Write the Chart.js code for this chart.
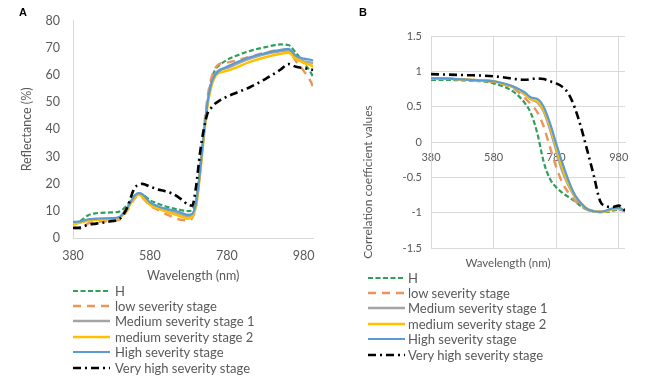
<!DOCTYPE html>
<html>
<head>
<meta charset="utf-8">
<script src="https://cdn.jsdelivr.net/npm/chart.js@4"></script>
<style>
  body { margin: 0; background: #fff; }
  #wrap { position: relative; width: 650px; height: 386px; overflow: hidden; }
  canvas { position: absolute; top: 0; }
  .tag { position: absolute; font: bold 11px "Liberation Sans", Arial, sans-serif; color: #000; }
  .legend { position: absolute; font: 13px Lato, sans-serif; color: #595959; }
  .legend div { height: 15.4px; display: flex; align-items: center; white-space: nowrap; }
  .legend svg { flex: none; }
</style>
</head>
<body>
<div id="wrap">
  <canvas id="chartA" width="325" height="285" style="left:0"></canvas>
  <canvas id="chartB" width="325" height="285" style="left:325px"></canvas>
  <div class="tag" style="left:19px;top:6px">A</div>
  <div class="tag" style="left:359px;top:6px">B</div>
  <div class="legend" id="legendA" style="left:73px;top:283px"></div>
  <div class="legend" id="legendB" style="left:368px;top:270px"></div>
</div>
<script>
// series names (legend order)
const seriesNames = ["H", "low severity stage", "Medium severity stage 1", "medium severity stage 2", "High severity stage", "Very high severity stage"];

// axis ticks
const xTicks = [380, 580, 780, 980];
const yTicksA = [0, 10, 20, 30, 40, 50, 60, 70, 80];
const yTicksB = [-1.5, -1, -0.5, 0, 0.5, 1, 1.5];

// panel A: reflectance (%)
const wavelengthsA = [380, 400, 420, 440, 460, 480, 500, 520, 540, 550, 560, 580, 600, 620, 640, 660, 680, 690, 700, 710, 720, 730, 740, 750, 760, 780, 800, 840, 880, 920, 940, 960, 980, 1000, 1005];
const reflH      = [5.5, 6.5, 8.5, 9.2, 9.4, 9.5, 9.8, 12, 15.5, 16.5, 16.2, 14, 12.8, 11.8, 11, 10.4, 10, 10.6, 14, 25, 38, 50, 58, 62, 63.5, 65.5, 66.8, 68.8, 70.2, 71.2, 71, 68, 64.5, 60.5, 59];
const reflLow    = [4, 3.5, 5.5, 6, 6.2, 6.5, 6.8, 10, 14.5, 15.8, 15, 12, 10.5, 9, 7.8, 6.8, 6.6, 7.5, 12, 24, 40, 52, 59, 62.5, 64, 64.5, 65.2, 66.7, 68.2, 69.2, 68.8, 65, 61.5, 57, 55];
const reflMed1   = [5.6, 6, 6.8, 7, 7.1, 7.2, 7.6, 10.8, 15.2, 16.3, 15.8, 12.8, 11.5, 10.4, 9.6, 8.8, 8, 8.6, 12.5, 24, 38, 50, 57, 60.5, 61.8, 62.5, 63.7, 66, 67.7, 68.7, 69, 66.5, 65, 64.5, 64.3];
const reflMed2   = [5, 5.8, 6.5, 6.8, 6.9, 7, 7.4, 10.5, 15, 16, 15.4, 12.3, 11, 9.9, 9, 8.1, 7.2, 8, 12, 23, 37, 49, 56, 59.5, 60.8, 61.5, 62.5, 64.8, 66.5, 67.8, 68.2, 66, 64.5, 63.5, 63.2];
const reflHigh   = [6, 6.2, 7, 7.2, 7.3, 7.4, 7.8, 11, 15.6, 16.6, 16.2, 13.2, 11.8, 10.9, 10.3, 9.5, 8.6, 9, 13, 24, 38, 50, 57, 60, 61.5, 63, 64.3, 66.5, 68, 69.2, 69.6, 67, 66, 65.5, 65.3];
const reflVHigh  = [3.8, 4, 5, 5.4, 5.8, 6.3, 7, 11, 18.5, 19.5, 20, 19, 18, 17.3, 16.3, 14.5, 12.3, 12, 19, 31, 40, 46, 48, 49.5, 50.5, 52, 53.2, 55.5, 58.5, 62, 64, 63, 62.5, 62, 61.8];

// panel B: correlation coefficient values
const wavelengthsB = [380, 420, 460, 500, 540, 580, 620, 650, 680, 700, 720, 740, 760, 780, 800, 820, 840, 860, 880, 900, 920, 940, 960, 980, 1000];
const corrH     = [0.88, 0.88, 0.875, 0.87, 0.86, 0.83, 0.77, 0.69, 0.55, 0.40, 0.12, -0.28, -0.52, -0.64, -0.72, -0.78, -0.84, -0.91, -0.96, -0.98, -0.99, -0.99, -0.97, -0.96, -0.97];
const corrLow   = [0.9, 0.9, 0.89, 0.88, 0.87, 0.85, 0.8, 0.74, 0.62, 0.53, 0.42, 0.22, -0.07, -0.35, -0.58, -0.72, -0.83, -0.9, -0.96, -0.98, -0.99, -0.98, -0.95, -0.95, -0.98];
const corrMed1  = [0.9, 0.9, 0.89, 0.88, 0.87, 0.86, 0.81, 0.76, 0.67, 0.6, 0.56, 0.43, 0.18, -0.12, -0.42, -0.62, -0.78, -0.88, -0.95, -0.98, -0.99, -0.98, -0.95, -0.95, -0.98];
const corrMed2  = [0.9, 0.9, 0.89, 0.88, 0.87, 0.86, 0.81, 0.77, 0.68, 0.61, 0.58, 0.46, 0.23, -0.06, -0.36, -0.59, -0.76, -0.87, -0.95, -0.98, -0.99, -0.98, -0.95, -0.94, -0.98];
const corrHigh  = [0.9, 0.9, 0.89, 0.88, 0.87, 0.86, 0.82, 0.77, 0.7, 0.63, 0.61, 0.5, 0.27, -0.02, -0.3, -0.55, -0.75, -0.87, -0.95, -0.98, -0.99, -0.97, -0.94, -0.93, -0.98];
const corrVHigh = [0.96, 0.955, 0.95, 0.945, 0.94, 0.93, 0.91, 0.89, 0.88, 0.89, 0.9, 0.89, 0.86, 0.83, 0.78, 0.68, 0.48, 0.2, -0.13, -0.47, -0.83, -0.91, -0.92, -0.9, -0.97];

// line look per series
const styles = [
  { color: "#2ea05a", dash: [5, 2.5], width: 2.2 },
  { color: "#ec955a", dash: [8, 6], width: 2.4 },
  { color: "#a5a5a5", dash: [], width: 2.4 },
  { color: "#ffc000", dash: [], width: 2.6 },
  { color: "#5b9bd5", dash: [], width: 2.2 },
  { color: "#000000", dash: [8, 4, 2, 4], width: 2.6 },
];

const TEXT = "#595959";
const GRID = "#d9d9d9";

function makeDatasets(xs, series) {
  return series.map((vals, i) => ({
    label: seriesNames[i],
    data: xs.map((x, j) => ({ x: x, y: vals[j] })),
    borderColor: styles[i].color,
    borderDash: styles[i].dash,
    borderWidth: styles[i].width,
    pointRadius: 0,
    fill: false,
    cubicInterpolationMode: "monotone",
    order: series.length - i, // last series on top, like Excel
  }));
}

function setTicks(list) {
  return (scale) => { scale.ticks = list.map((v) => ({ value: v })); };
}

// Panel A
new Chart(document.getElementById("chartA").getContext("2d"), {
  type: "line",
  data: { datasets: makeDatasets(wavelengthsA, [reflH, reflLow, reflMed1, reflMed2, reflHigh, reflVHigh]) },
  options: {
    responsive: false,
    animation: false,
    layout: { padding: { top: 12, right: 10, left: 0, bottom: 0 } },
    plugins: { legend: { display: false }, tooltip: { enabled: false } },
    scales: {
      x: {
        type: "linear", min: 380, max: 1005,
        afterBuildTicks: setTicks(xTicks),
        afterFit: (s) => { s.height = 46.7; },
        grid: { display: false, drawTicks: false },
        border: { color: GRID, width: 1 },
        ticks: { color: TEXT, font: { family: "Lato", size: 12.5 }, padding: 10, maxRotation: 0 },
        title: { display: true, text: "Wavelength (nm)", color: TEXT, font: { family: "Lato", size: 12.5 }, padding: { top: 0, bottom: 2 } },
      },
      y: {
        min: 0, max: 80,
        afterBuildTicks: setTicks(yTicksA),
        afterFit: (s) => { s.width = 73; },
        grid: { display: false, drawTicks: false },
        border: { color: GRID, width: 1 },
        ticks: { color: TEXT, font: { family: "Lato", size: 12.5 }, padding: 13 },
        title: { display: true, text: "Reflectance (%)", color: TEXT, font: { family: "Lato", size: 12.5 }, padding: { top: 19, bottom: 0 } },
      },
    },
  },
});

// axis titles of panel B sit off-centre in the reference, so draw them by hand
const titlesB = {
  id: "titlesB",
  afterDraw(chart) {
    const { ctx, chartArea: a } = chart;
    ctx.save();
    ctx.fillStyle = TEXT;
    ctx.font = "11.5px Lato";
    ctx.textAlign = "center";
    ctx.textBaseline = "middle";
    ctx.fillText("Wavelength (nm)", a.left + 77, a.bottom + 15);
    ctx.font = "12px Lato";
    ctx.translate(a.left - 63, a.bottom - 66);
    ctx.rotate(-Math.PI / 2);
    ctx.fillText("Correlation coefficient values", 0, 0);
    ctx.restore();
  },
};

// Panel B
new Chart(document.getElementById("chartB").getContext("2d"), {
  type: "line",
  data: { datasets: makeDatasets(wavelengthsB, [corrH, corrLow, corrMed1, corrMed2, corrHigh, corrVHigh]) },
  options: {
    responsive: false,
    animation: false,
    layout: { padding: { top: 36, right: 25, left: 0, bottom: 37 } },
    plugins: { legend: { display: false }, tooltip: { enabled: false } },
    scales: {
      x: {
        type: "linear", min: 380, max: 1000,
        position: { y: 0 },
        afterBuildTicks: setTicks(xTicks),
        grid: { color: GRID, drawTicks: false },
        border: { color: GRID, width: 1 },
        ticks: { color: TEXT, font: { family: "Lato", size: 11 }, padding: 9, maxRotation: 0 },
      },
      y: {
        min: -1.5, max: 1.5,
        afterBuildTicks: setTicks(yTicksB),
        afterFit: (s) => { s.width = 106; },
        grid: { color: GRID, drawTicks: false },
        border: { color: GRID, width: 1 },
        ticks: { color: TEXT, font: { family: "Lato", size: 11 }, padding: 9, callback: (v) => String(v) },
      },
    },
  },
  plugins: [titlesB],
});

// legends below each panel
function buildLegend(id, gap) {
  const box = document.getElementById(id);
  seriesNames.forEach((name, i) => {
    const st = styles[i];
    const row = document.createElement("div");
    row.innerHTML =
      `<svg width="37" height="6" style="margin-right:${gap}px"><line x1="0" y1="3" x2="37" y2="3" stroke="${st.color}" stroke-width="${st.width}" stroke-dasharray="${st.dash.join(",") || "none"}"/></svg><span>${name}</span>`;
    box.appendChild(row);
  });
}
buildLegend("legendA", 5);
buildLegend("legendB", 3);
</script>
</body>
</html>
